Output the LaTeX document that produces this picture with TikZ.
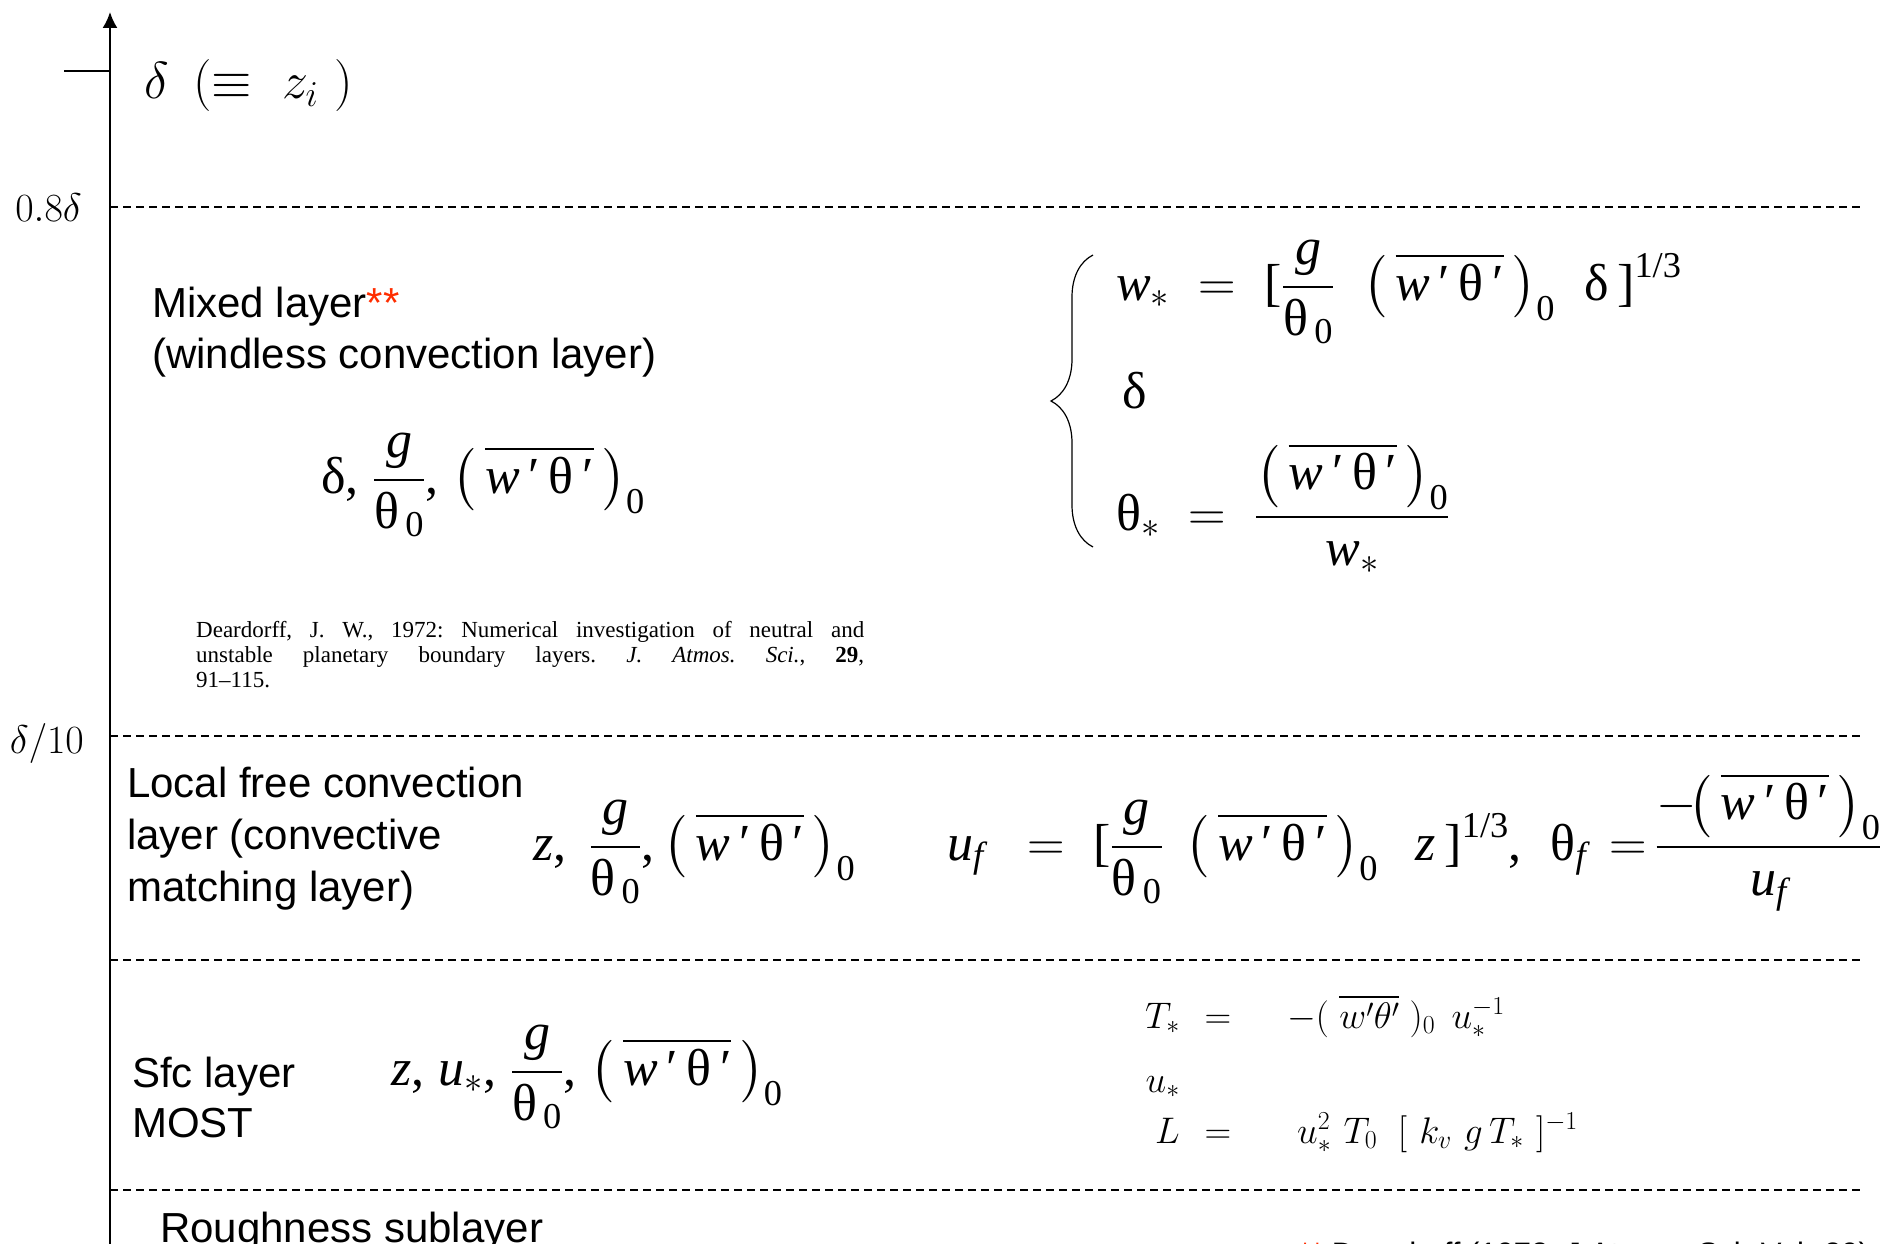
\documentclass[tikz,border=0pt]{standalone}
\usepackage{fix-cm}
\usepackage{amsmath,amssymb}
\usepackage{fontspec}
\newfontfamily\sansfont{Liberation Sans}
\newfontfamily\tmsfont{Liberation Serif}
\usepackage{tikz}
\usetikzlibrary{positioning, calc, arrows.meta, decorations.pathreplacing}
\definecolor{starred}{RGB}{255,45,0}
% Times-like pieces of the formulas
\newcommand{\tv}[1]{\text{\tmsfont\itshape #1}}
\newcommand{\tu}[1]{\text{\tmsfont\upshape #1}}
\newcommand{\flux}{\bigl(\,\overline{\tv{w}\tu{\,′\,}\tu{θ}\tu{\,′}}\,\bigr)_{\tu{0}}}
\newcommand{\gth}{\dfrac{\tv{g}}{\tu{θ}_{\,\tu{0}}}}

\begin{document}
\begin{tikzpicture}[
    x = 1pt, y = -1pt,
    > = {Latex[length = 16pt, width = 15pt]},
    axis/.style = {
      ->, line width = 2pt
    },
    level/.style = {
      line width = 1.4pt, dash pattern = on 8pt off 5pt
    },
    layer/.style = {
      anchor = base west, inner sep = 0pt,
      font = \sansfont\fontsize{42}{50}\selectfont
    },
    eqn/.style = {
      anchor = base west, inner sep = 0pt,
      font = \fontsize{52}{62}\selectfont
    },
    cmeq/.style = {
      inner sep = 0pt, font = \fontsize{37}{44}\selectfont
    },
    ticklabel/.style = {
      anchor = base east, inner sep = 0pt, font = \fontsize{40}{46}\selectfont
    },
    brc/.style = {
      decorate, decoration = {brace, amplitude = 42pt}, line width = 1.2pt
    },
    cite/.style = {
      anchor = north west, inner sep = 0pt, text width = 668pt, align = justify,
      font = \tmsfont\fontsize{23}{25}\selectfont\frenchspacing
    },
    ]
    \useasboundingbox (0,0) rectangle (1887,1244);

    % height axis
    \coordinate (axbot) at (110,1244);
    \coordinate (axtop) at (110,12);
    \coordinate (tick) at (64,71);
    \draw [axis] (axbot) -- (axtop);
    \draw [line width = 1.5pt] (tick) -- (tick -| axtop);
    \node [anchor = base west, inner sep = 0pt, font = \fontsize{52}{60}\selectfont]
      (zi) at (144,99) {$\delta\ \,(\equiv\ z_i\ )$};

    % layer boundaries
    \foreach \name/\yy in {top/207, mid/736, sfc/960, rough/1190}{
      \coordinate (\name L) at (110,\yy);
      \coordinate (\name R) at (1863,\yy);
      \draw [level] (\name L) -- (\name R);
    }
    \node [ticklabel] (lab08) at (82,221) {$0.8\delta$};
    \node [ticklabel] (lab10) at (84,753) {$\delta/10$};

    % mixed layer
    \node [layer] (mixed1) at (152,317) {Mixed layer\textcolor{starred}{**}};
    \node [layer] (mixed2) at ($(mixed1.base west)+(0,51)$) {(windless convection layer)};
    \node [eqn] (eqmixed) at (321,493) {$\tu{δ}\tu{,}\;\gth\tu{,}\;\flux$};
    \node [cite] (deardorff) at (196,621)
      {\hangindent=45pt\hangafter=1 Deardorff, J. W., 1972: Numerical investigation of neutral and\linebreak
       unstable planetary boundary layers. \textit{J. Atmos. Sci.}, \textbf{29},\linebreak 91–115.};

    \coordinate (brtop) at (1093,255);
    \coordinate (brbot) at (1093,547);
    \draw [brc] (brbot) -- (brtop);
    \node [eqn] (wstar) at (1116,300)
      {$\tv{w}_*\;=\;\tu{[}\gth\;\;\flux\;\;\tu{δ}\mkern3mu\tu{]}^{\tu{1/3}}$};
    \node [eqn] (dscale) at (1122,408) {$\tu{δ}$};
    \node [eqn] (thstar) at (1116,530) {$\tu{θ}_*\;=\;\dfrac{\flux}{\tv{w}_*}$};

    % local free convection layer
    \node [layer] (lfc1) at (127,797) {Local free convection};
    \foreach \txt [count = \i from 2] in {{layer (convective}, {matching layer)}}{
      \pgfmathtruncatemacro{\lasti}{\i-1}
      \node [layer] (lfc\i) at ($(lfc\lasti.base west)+(0,52)$) {\txt};
    }
    \node [eqn] (eqlfc) at (533,860) {$\tv{z}\tu{,}\;\,\gth\tu{,}\,\flux$};
    \node [eqn] (uf) at (947,860)
      {$\tv{u}_{\tv{f}}\;\;=\;\tu{[}\gth\;\,\flux\;\;\,\tv{z}\,\tu{]}^{\tu{1/3}}\tu{,}\;\;
        \tu{θ}_{\tv{f}}\;\,{=}\,\dfrac{{-}\!\flux}{\tv{u}_{\tv{f}}}$};

    % surface layer
    \node [layer] (sfc1) at (132,1087) {Sfc layer};
    \node [layer] (sfc2) at ($(sfc1.base west)+(0,50)$) {MOST};
    \node [eqn] (eqsfc) at (391,1085) {$\tv{z}\tu{,}\;\tv{u}_*\tu{,}\;\gth\tu{,}\;\flux$};
    \node [cmeq, anchor = base east] (tsl) at (1180,1028) {$T_*$};
    \node [cmeq, anchor = base] (tseq) at (1218,1028) {$=$};
    \node [cmeq, anchor = base west] (tsr) at (1287,1028)
      {$-(\;\overline{w'\theta'}\;)_0\;\,u_*^{-1}$};
    \node [cmeq, anchor = base east] (usl) at (1180,1092) {$u_*$};
    \node [cmeq, anchor = base east] (ll) at (1180,1143) {$L$};
    \node [cmeq, anchor = base] (leq) at (1218,1143) {$=$};
    \node [cmeq, anchor = base west] (lr) at (1297,1143)
      {$u_*^2\,\,T_0\;\;[\,\,k_v\,\,g\,T_*\,\,]^{-1}$};

    % roughness sublayer
    \node [layer] (rough) at (160,1242) {Roughness sublayer};
    \node [layer, font = \sansfont\fontsize{31}{36}\selectfont] (source) at (1299,1264)
      {\textcolor{starred}{**} Deardorff (1972, J Atmos. Sci. Vol. 29)};
\end{tikzpicture}
\end{document}
